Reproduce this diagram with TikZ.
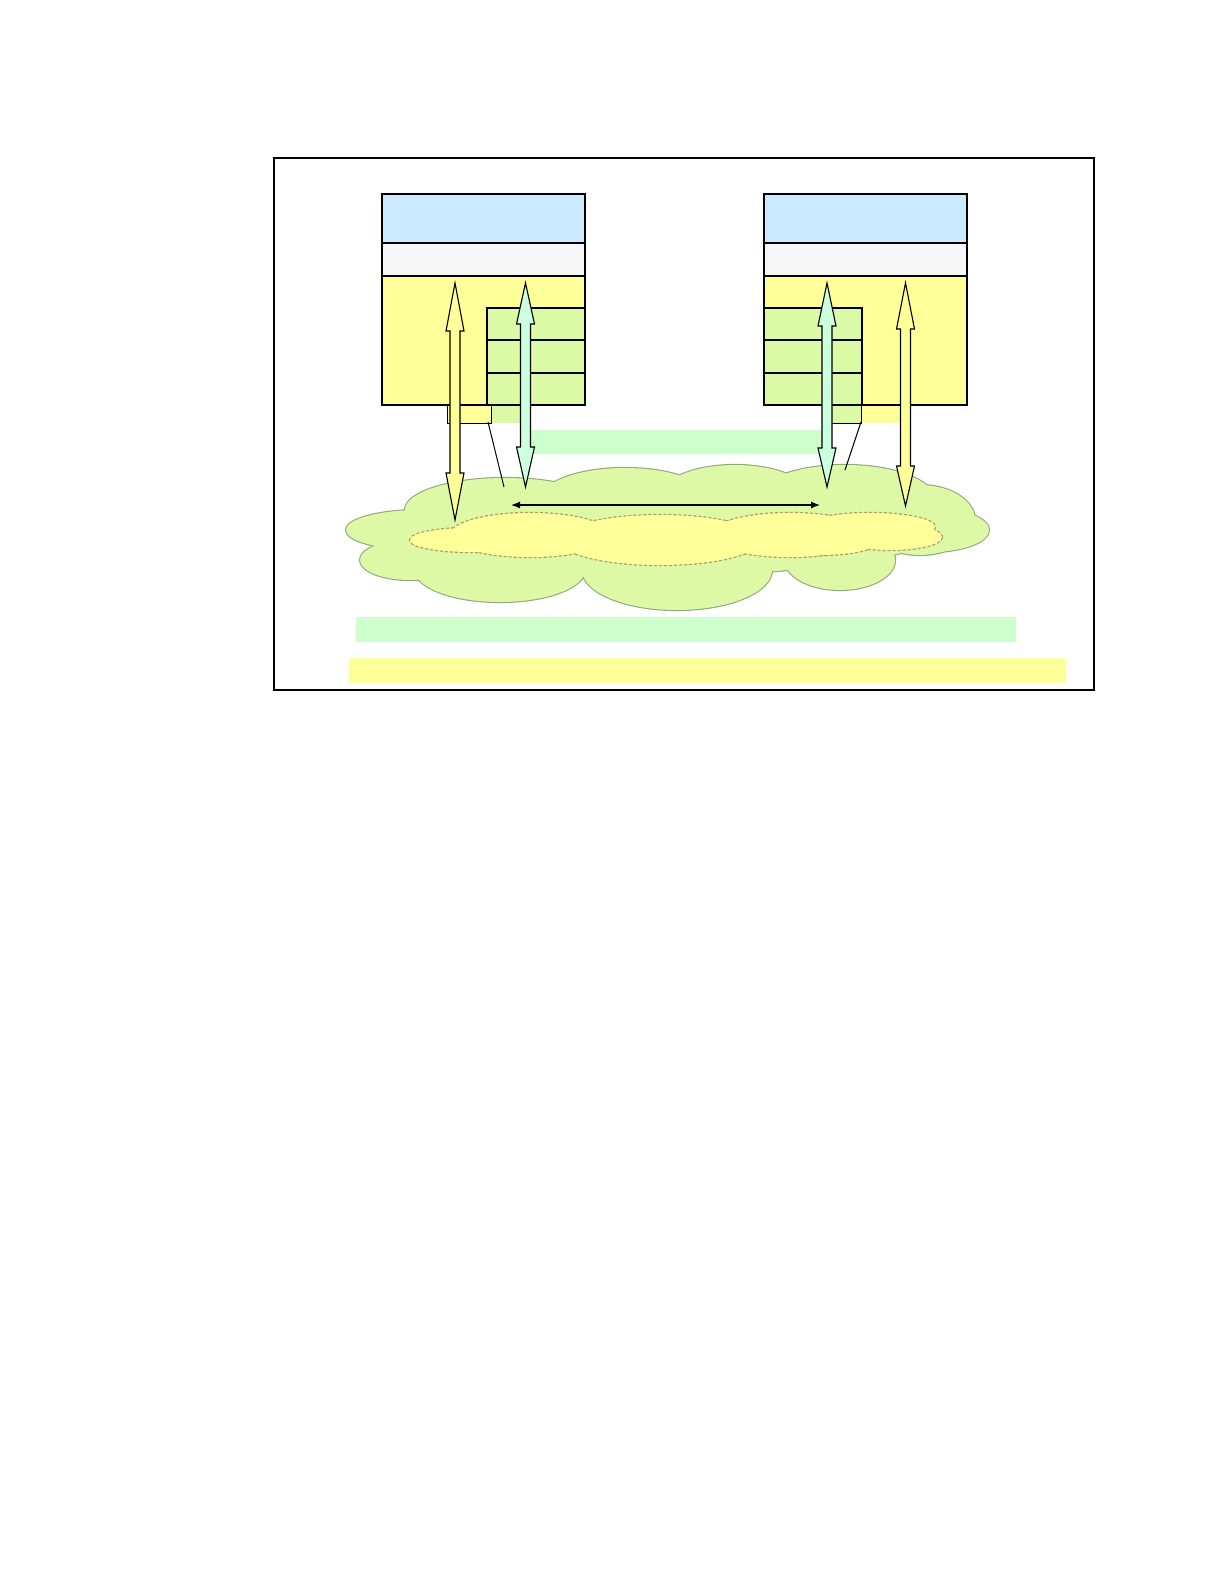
\documentclass[tikz,border=0pt]{standalone}
\usetikzlibrary{arrows.meta}
\definecolor{bandblue}{RGB}{204,234,255}
\definecolor{bandgray}{RGB}{247,247,247}
\definecolor{ylw}{RGB}{255,255,153}
\definecolor{stackgreen}{RGB}{218,250,165}
\definecolor{cloudgreen}{RGB}{221,249,166}
\definecolor{cloudline}{RGB}{145,168,125}
\definecolor{mint}{RGB}{204,255,221}
\definecolor{barmint}{RGB}{204,255,204}
\definecolor{dashline}{RGB}{170,155,105}
\newcommand\dblblockarrow[6]{% x, ytip1, ybase1, ybase2, ytip2, fill
  \draw[blockarrowstyle, fill=#6] (#1,#2) -- (#1+9,#3) -- (#1+5,#3) -- (#1+5,#4) -- (#1+9,#4) -- (#1,#5)
    -- (#1-9,#4) -- (#1-5,#4) -- (#1-5,#3) -- (#1-9,#3) -- cycle;}
\tikzset{
  boxline/.style={draw=black, line width=2.7pt},
  thinline/.style={draw=black, line width=1pt},
  blockarrowstyle/.style={draw=black, line width=1.1pt, line join=miter},
  cloudedge/.style={draw=cloudline, line width=2.2pt},
  inneredge/.style={draw=dashline, line width=2.4pt, dash pattern=on 3pt off 2pt},
}
\begin{document}
\begin{tikzpicture}[x=1pt, y=-1pt]
\useasboundingbox (0,0) rectangle (1224,1584);
% frame
\draw[line width=1.1pt] (274,158) rectangle (1094,690);
% bottom bars
\fill[barmint] (356,617) rectangle (1016,642);
\fill[ylw] (349,658) rectangle (1066,683);
% cloud
\def\cloudlist{420/530/74/20, 505/510/100/32, 625/500/85/32, 735/497/75/32, 845/500/90/35, 920/520/55/35, 930/530/59/22, 840/560/55/30, 677/570/95/40, 500/570/85/32, 410/560/50/20, 660/530/280/45}
\foreach \cx/\cy/\rx/\ry in \cloudlist { \draw[cloudedge] (\cx,\cy) ellipse [x radius=\rx, y radius=\ry]; }
\foreach \cx/\cy/\rx/\ry in \cloudlist { \fill[cloudgreen] (\cx,\cy) ellipse [x radius=\rx, y radius=\ry]; }
% inner dashed cloud
\def\innerlist{470/540/60/12, 530/535/80/22, 660/540/100/25, 790/535/80/22, 870/527/65/14, 890/537/52/13, 820/543/55/12}
\foreach \cx/\cy/\rx/\ry in \innerlist { \draw[inneredge] (\cx,\cy) ellipse [x radius=\rx, y radius=\ry]; }
\foreach \cx/\cy/\rx/\ry in \innerlist { \fill[ylw] (\cx,\cy) ellipse [x radius=\rx, y radius=\ry]; }
% horizontal double arrow
\coordinate (ha) at (511,505);
\coordinate (hb) at (820,505);
\draw[line width=1.2pt, {Latex[length=9pt,width=7pt]}-{Latex[length=9pt,width=7pt]}] (ha) -- (hb);
% upper light green bar
\fill[barmint] (530,430) rectangle (823,454);
% left host box
\fill[bandblue] (382,194) rectangle (585,243);
\fill[bandgray] (382,243) rectangle (585,276);
\fill[ylw] (382,276) rectangle (585,405);
\fill[stackgreen] (487,308) rectangle (585,405);
\draw[boxline] (487,405) -- (487,308) -- (585,308);
\draw[boxline] (487,340) -- (585,340);
\draw[boxline] (487,373) -- (585,373);
\draw[boxline] (382,243) -- (585,243);
\draw[boxline] (382,276) -- (585,276);
% left small rects
\fill[stackgreen] (491.5,405) rectangle (524,423);
\filldraw[fill=ylw, thinline] (447.5,405) -- (447.5,423) -- (491.5,423) -- (491.5,405);
\draw[boxline] (382,194) rectangle (585,405);
% right host box
\fill[bandblue] (764,194) rectangle (967,243);
\fill[bandgray] (764,243) rectangle (967,276);
\fill[ylw] (764,276) rectangle (967,405);
\fill[stackgreen] (764,308) rectangle (862,405);
\draw[boxline] (764,308) -- (862,308) -- (862,405);
\draw[boxline] (764,340) -- (862,340);
\draw[boxline] (764,373) -- (862,373);
\draw[boxline] (764,243) -- (967,243);
\draw[boxline] (764,276) -- (967,276);
% right small rects
\fill[ylw] (861.5,405) rectangle (902,423);
\filldraw[fill=stackgreen, thinline] (822,405) -- (822,423) -- (861.5,423) -- (861.5,405);
\draw[boxline] (764,194) rectangle (967,405);
% callout lines
\coordinate (cl1) at (488,422);
\coordinate (cl2) at (504,487);
\coordinate (cr1) at (861,422);
\coordinate (cr2) at (845,470);
\draw[thinline] (cl1) -- (cl2);
\draw[thinline] (cr1) -- (cr2);
% block arrows
\dblblockarrow{455}{283}{331}{473}{520}{ylw}
\dblblockarrow{525.5}{283}{324}{447}{487}{mint}
\dblblockarrow{827}{283}{326}{448}{487}{mint}
\dblblockarrow{905.5}{283}{329}{466}{506}{ylw}
\end{tikzpicture}
\end{document}
